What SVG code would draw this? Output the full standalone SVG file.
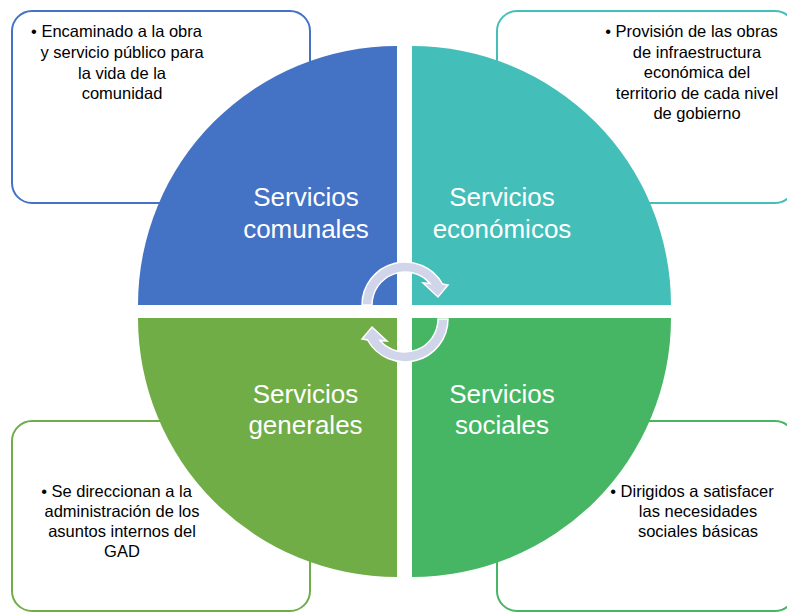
<svg xmlns="http://www.w3.org/2000/svg" width="787" height="612" viewBox="0 0 787 612">
<style>
.box{fill:#FFFFFF;stroke-width:2}
.desc{font-family:"Liberation Sans",Arial,sans-serif;font-size:16.5px;fill:#000000;text-anchor:middle}
.lbl{font-family:"Liberation Sans",Arial,sans-serif;font-size:26px;fill:#FFFFFF;text-anchor:middle}
.arr{fill:#D0D5EA;stroke:#FFFFFF;stroke-width:1.5;stroke-linejoin:miter}
</style>
<defs>
<path id="cyc" d="M362 305 A43 43 0 0 1 442.5 284 L448 285 L438 297 L423 283 L430 283.5 A33 33 0 0 0 372 305 Z"/>
</defs>
<rect width="787" height="612" fill="#FFFFFF"/>
<g id="box-comunales">
<rect class="box" x="12" y="11" width="298" height="192" rx="20" stroke="#4472C4"/>
<text class="desc"><tspan x="116.5" y="37">• Encaminado a la obra</tspan><tspan x="122" y="58">y servicio público para</tspan><tspan x="122" y="78.5">la vida de la</tspan><tspan x="122" y="99">comunidad</tspan></text>
</g>
<g id="box-economicos">
<rect class="box" x="497" y="11" width="298" height="192" rx="20" stroke="#44BEB8"/>
<text class="desc"><tspan x="691.5" y="37">• Provisión de las obras</tspan><tspan x="697" y="57.5">de infraestructura</tspan><tspan x="697" y="78">económica del</tspan><tspan x="697" y="98.5">territorio de cada nivel</tspan><tspan x="697" y="119">de gobierno</tspan></text>
</g>
<g id="box-generales">
<rect class="box" x="12" y="421" width="298" height="190" rx="20" stroke="#70AD47"/>
<text class="desc"><tspan x="116.5" y="497">• Se direccionan a la</tspan><tspan x="122" y="517">administración de los</tspan><tspan x="122" y="537">asuntos internos del</tspan><tspan x="122" y="557">GAD</tspan></text>
</g>
<g id="box-sociales">
<rect class="box" x="497" y="421" width="298" height="190" rx="20" stroke="#46B664"/>
<text class="desc"><tspan x="692" y="497">• Dirigidos a satisfacer</tspan><tspan x="698" y="517">las necesidades</tspan><tspan x="698" y="536.5">sociales básicas</tspan></text>
</g>
<g id="q-comunales">
<path d="M397 305 L138 305 A259 259 0 0 1 397 46 Z" fill="#4472C4"/>
<text class="lbl"><tspan x="306" y="206">Servicios</tspan><tspan x="306" y="238">comunales</tspan></text>
</g>
<g id="q-economicos">
<path d="M412 305 L412 46 A259 259 0 0 1 671 305 Z" fill="#44BEB8"/>
<text class="lbl"><tspan x="502" y="206">Servicios</tspan><tspan x="502" y="238">económicos</tspan></text>
</g>
<g id="q-generales">
<path d="M397 318 L397 577 A259 259 0 0 1 138 318 Z" fill="#70AD47"/>
<text class="lbl"><tspan x="305.5" y="403">Servicios</tspan><tspan x="305.5" y="434">generales</tspan></text>
</g>
<g id="q-sociales">
<path d="M412 318 L671 318 A259 259 0 0 1 412 577 Z" fill="#46B664"/>
<text class="lbl"><tspan x="502" y="403">Servicios</tspan><tspan x="502" y="434">sociales</tspan></text>
</g>
<g id="connectors">
<use href="#cyc" class="arr"/>
<use href="#cyc" class="arr" transform="rotate(180 405 312)"/>
</g>
</svg>
